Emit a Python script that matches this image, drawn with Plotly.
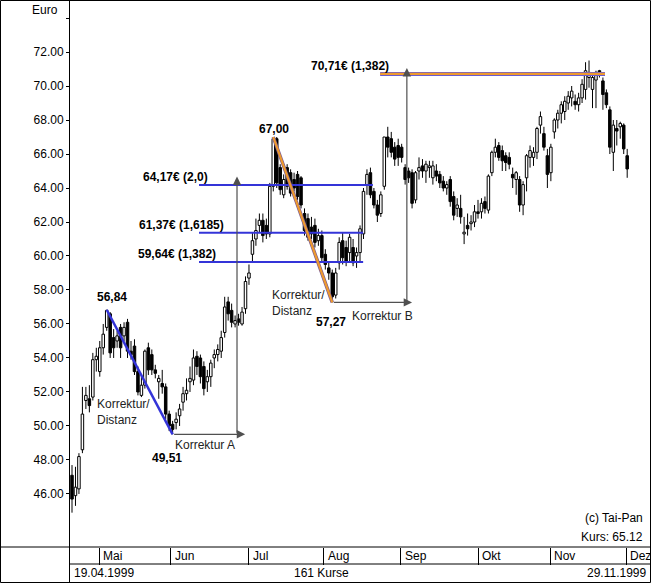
import plotly.graph_objects as go

# ---------------- data ----------------
opens = [47.1, 45.9, 46.3, 48.6, 51.5, 51.6, 51.7, 53.9, 53.2, 54.6,
         55.8, 56.6, 55.2, 55.0, 55.8, 55.3, 56.1, 54.4, 54.7, 53.2,
         51.8, 52.4, 54.6, 54.2, 53.3, 52.6, 52.5, 52.3, 50.7, 50.1,
         50.2, 50.6, 51.4, 51.9, 52.6, 52.7, 54.1, 54.0, 53.5, 52.6,
         52.9, 54.0, 54.2, 54.4, 55.5, 57.3, 56.8, 56.0, 56.3, 56.0,
         56.9, 58.7, 60.1, 61.0, 61.8, 62.1, 61.8, 61.3, 64.1, 66.9,
         65.2, 63.6, 65.2, 64.9, 64.5, 64.8, 64.6, 62.5, 62.2, 61.7,
         61.8, 60.9, 61.2, 60.1, 59.3, 59.0, 57.7, 59.6, 60.9, 60.5,
         60.2, 60.5, 60.0, 60.2, 61.3, 64.2, 64.9, 63.8, 63.0, 62.5,
         64.1, 67.0, 66.9, 66.4, 66.5, 66.4, 65.2, 65.0, 64.9, 63.3,
         65.0, 65.3, 65.0, 65.2, 64.6, 65.0, 64.8, 64.4, 64.0, 64.5,
         63.5, 62.8, 62.8, 61.3, 61.8, 61.9, 62.0, 62.6, 62.6, 63.2,
         62.7, 64.9, 66.1, 66.5, 66.2, 65.9, 65.8, 64.8, 64.5, 64.5,
         63.0, 64.6, 65.8, 65.8, 66.1, 67.7, 67.2, 65.9, 64.9, 67.3,
         68.0, 68.4, 68.5, 69.0, 69.3, 69.1, 68.9, 69.3, 69.8, 70.5,
         69.8, 70.35, 70.9, 70.3, 69.6, 68.6, 66.1, 67.5, 67.6, 67.7,
         65.9]
highs = [47.7, 47.6, 48.4, 52.3, 52.3, 52.4, 54.3, 54.6, 55.0, 56.0,
         56.84, 56.7, 55.7, 55.6, 56.0, 56.1, 56.3, 55.0, 55.1, 53.5,
         53.0, 54.5, 54.9, 54.5, 53.6, 53.0, 53.3, 52.5, 50.9, 50.3,
         50.8, 51.3, 52.3, 52.8, 53.5, 54.5, 54.4, 54.2, 53.8, 53.3,
         53.9, 54.5, 54.8, 55.6, 57.6, 57.6, 57.2, 56.5, 56.6, 57.0,
         58.8, 59.5, 61.4, 62.2, 62.5, 62.5, 62.2, 64.3, 67.0, 67.0,
         65.4, 64.8, 65.4, 65.1, 64.9, 65.0, 64.7, 62.8, 62.5, 62.3,
         62.2, 61.6, 61.5, 60.4, 59.6, 59.2, 59.3, 61.1, 61.4, 60.9,
         61.3, 61.0, 60.5, 61.8, 64.0, 65.1, 65.2, 64.0, 63.3, 63.8,
         67.0, 67.6, 67.3, 66.7, 66.9, 66.6, 65.4, 65.2, 65.1, 65.0,
         65.8, 65.7, 65.6, 65.6, 65.6, 65.4, 65.0, 64.7, 64.4, 64.7,
         63.8, 63.4, 63.6, 62.3, 62.5, 62.4, 63.0, 63.3, 63.4, 63.5,
         64.8, 66.2, 66.9, 66.7, 66.5, 66.1, 66.1, 65.2, 65.0, 64.7,
         64.4, 66.0, 66.5, 66.4, 67.6, 68.5, 67.6, 66.3, 66.6, 68.1,
         68.6, 69.1, 69.4, 69.7, 70.0, 69.5, 69.6, 70.4, 71.4, 71.5,
         70.6, 70.9, 70.95, 70.5, 69.8, 68.8, 68.0, 68.0, 67.9, 67.8,
         66.3]
lows = [44.9, 45.3, 46.0, 48.4, 51.0, 50.8, 51.5, 53.2, 52.9, 54.2,
        55.6, 54.0, 54.0, 54.6, 54.0, 55.0, 54.0, 53.9, 53.0, 51.8,
        51.7, 52.2, 53.0, 53.0, 52.8, 51.6, 51.9, 50.4, 49.7, 49.51,
        49.8, 50.0, 50.9, 51.5, 52.0, 52.4, 53.0, 52.5, 51.8, 52.0,
        52.3, 53.4, 53.8, 54.0, 55.2, 56.2, 55.8, 55.8, 55.9, 55.9,
        56.6, 58.3, 59.6, 60.6, 61.4, 60.8, 61.0, 61.1, 63.8, 64.0,
        63.6, 63.4, 63.9, 63.5, 63.8, 63.3, 62.8, 61.2, 60.9, 61.0,
        60.5, 60.6, 59.6, 59.2, 58.6, 57.27, 57.5, 59.2, 59.5, 59.4,
        59.6, 59.4, 59.3, 59.7, 61.0, 63.6, 63.4, 62.8, 62.0, 62.3,
        63.9, 65.8, 65.8, 65.3, 65.3, 65.5, 64.2, 64.3, 62.8, 63.1,
        64.5, 64.6, 64.3, 64.6, 64.2, 64.4, 64.0, 63.8, 63.6, 62.9,
        62.1, 62.3, 61.9, 60.7, 61.2, 61.5, 61.7, 62.2, 62.2, 62.5,
        62.5, 64.7, 65.8, 65.6, 65.0, 65.0, 65.1, 64.0, 63.6, 62.6,
        62.4, 63.8, 65.2, 65.3, 65.7, 67.2, 66.2, 64.0, 64.4, 66.9,
        67.5, 67.8, 68.0, 68.6, 68.8, 68.6, 68.5, 69.0, 69.2, 69.9,
        68.7, 68.7, 70.5, 68.6, 68.7, 66.0, 65.0, 66.5, 66.9, 66.0,
        64.6]
closes = [45.7, 46.4, 48.2, 50.7, 51.8, 51.2, 53.9, 54.1, 54.6, 55.4,
          56.8, 54.3, 54.6, 55.3, 54.6, 55.8, 54.4, 54.2, 53.2, 52.0,
          52.4, 54.4, 53.3, 53.3, 53.1, 52.8, 52.3, 50.7, 50.0, 49.8,
          50.4, 51.0, 51.9, 52.1, 52.8, 54.0, 53.5, 52.9, 52.2, 52.9,
          53.7, 54.2, 54.5, 55.2, 57.0, 56.6, 56.1, 56.2, 56.1, 56.7,
          58.5, 59.0, 60.9, 61.5, 62.1, 61.2, 61.3, 64.1, 66.9, 64.3,
          63.9, 64.5, 64.1, 63.7, 64.0, 63.5, 63.0, 61.5, 61.1, 61.3,
          60.8, 61.2, 59.9, 59.5, 59.0, 57.6, 59.0, 60.8, 59.9, 59.7,
          61.1, 59.6, 60.2, 61.6, 63.8, 64.8, 63.6, 63.0, 62.4, 63.6,
          67.0, 66.4, 66.1, 65.7, 65.8, 65.8, 64.5, 64.6, 63.1, 64.9,
          65.2, 65.0, 65.4, 65.3, 65.3, 64.7, 64.3, 64.0, 64.2, 63.2,
          62.4, 63.0, 62.3, 61.4, 61.6, 62.0, 62.6, 62.5, 63.1, 62.8,
          64.7, 66.1, 66.4, 65.8, 65.6, 65.5, 65.4, 64.6, 64.9, 63.0,
          64.2, 65.9, 66.2, 66.1, 67.5, 68.2, 66.4, 64.8, 66.4, 68.0,
          68.4, 68.9, 69.1, 69.4, 69.7, 68.9, 69.3, 70.1, 70.9, 70.8,
          70.5, 70.8, 70.8, 69.5, 68.9, 66.4, 67.7, 67.35, 67.8, 66.3,
          65.12]

first_date = "19.04.1999"
last_date = "29.11.1999"
month_names = ["Mai", "Jun", "Jul", "Aug", "Sep", "Okt", "Nov", "Dez"]
y_tick_values = [46, 48, 50, 52, 54, 56, 58, 60, 62, 64, 66, 68, 70, 72, 74]
y_tick_labels = ["46.00", "48.00", "50.00", "52.00", "54.00", "56.00", "58.00",
                 "60.00", "62.00", "64.00", "66.00", "68.00", "70.00", "72.00", ""]

# correction A (high -> low) and correction B (high -> low), candle index / price
corr_a_idx = [10, 29]
corr_a_val = [56.84, 49.51]
corr_b_idx = [58, 75]
corr_b_val = [67.00, 57.27]

# projection levels
levels_a = [64.17, 61.37, 59.64]
levels_a_text = ["64,17€ (2,0)", "61,37€ (1,6185)", "59,64€ (1,382)"]
level_b = 70.71
level_b_text = "70,71€ (1,382)"

# ---------------- layout constants ----------------
W, H = 651, 583
PX_L, PX_R, PX_B = 70, 650, 547          # plot area in pixels
X_RANGE = [-0.58, 166.57]
Y_RANGE = [42.88, 75.06]
month_sep = [7.8, 28.5, 51.0, 72.6, 94.8, 117.0, 137.8, 159.7]   # separator positions (index units)
lev_a_start = 36.6
lev_a_end = [86.7, 83.9, 83.9]
lev_b_span = [88.8, 153.6]
arrow_a_x, arrow_a_end = 47.55, 49.9
arrow_b_x, arrow_b_end = 96.5, 98.0
BODY_W = 0.72

FONT = "Liberation Sans, Arial, sans-serif"
BLUE = "#3434d8"
ORANGE = "#ee9a2e"
GRAY = "#505050"

idx = list(range(len(closes)))
body_lo = [min(o, c) for o, c in zip(opens, closes)]
body_hi = [max(o, c) for o, c in zip(opens, closes)]
body_h = [max(h - l, 0.06) for h, l in zip(body_hi, body_lo)]
body_col = ["white" if c >= o else "black" for o, c in zip(opens, closes)]

wick_x, wick_y = [], []
for i, h, l, bh, bl in zip(idx, highs, lows, body_hi, body_lo):
    wick_x += [i, i, None, i, i, None]
    wick_y += [h, bh, None, bl, l, None]

fig = go.Figure()
fig.add_trace(go.Scatter(x=wick_x, y=wick_y, mode="lines", line=dict(color="black", width=1),
                         hoverinfo="skip", showlegend=False))
fig.add_trace(go.Bar(x=idx, y=body_h, base=body_lo, width=BODY_W,
                     marker=dict(color=body_col, line=dict(color="black", width=1)),
                     hoverinfo="skip", showlegend=False))

# projection lines A
for lv, xe in zip(levels_a, lev_a_end):
    fig.add_trace(go.Scatter(x=[lev_a_start, xe], y=[lv, lv], mode="lines",
                             line=dict(color=BLUE, width=2), hoverinfo="skip", showlegend=False))
# projection line B (orange over blue)
fig.add_trace(go.Scatter(x=lev_b_span, y=[level_b, level_b], mode="lines",
                         line=dict(color="#6a5ad0", width=4), hoverinfo="skip", showlegend=False))
fig.add_trace(go.Scatter(x=lev_b_span, y=[level_b, level_b], mode="lines",
                         line=dict(color=ORANGE, width=2.2), hoverinfo="skip", showlegend=False))
# correction lines
fig.add_trace(go.Scatter(x=corr_a_idx, y=corr_a_val, mode="lines",
                         line=dict(color=BLUE, width=2.5), hoverinfo="skip", showlegend=False))
fig.add_trace(go.Scatter(x=corr_b_idx, y=corr_b_val, mode="lines",
                         line=dict(color="#7a5a90", width=3.5), hoverinfo="skip", showlegend=False))
fig.add_trace(go.Scatter(x=corr_b_idx, y=corr_b_val, mode="lines",
                         line=dict(color=ORANGE, width=2.2), hoverinfo="skip", showlegend=False))

ann = []
def txt(x, y, t, xref="x", yref="y", xanchor="center", yanchor="middle",
        bold=False, size=12, color="black", xshift=0, yshift=0, align="left"):
    ann.append(dict(x=x, y=y, xref=xref, yref=yref, text=f"<b>{t}</b>" if bold else t,
                    showarrow=False, xanchor=xanchor, yanchor=yanchor, align=align,
                    font=dict(family=FONT, size=size, color=color),
                    xshift=xshift, yshift=yshift))

def arrow(x, y, ax, ay):
    ann.append(dict(x=x, y=y, ax=ax, ay=ay, xref="x", yref="y", axref="x", ayref="y",
                    text="", showarrow=True, arrowhead=2, arrowsize=1.4, arrowwidth=1.2,
                    arrowcolor=GRAY, standoff=0, startstandoff=0))

# arrows
arrow(arrow_a_end, corr_a_val[1], corr_a_idx[1], corr_a_val[1])
arrow(arrow_a_x, levels_a[0] + 0.5, arrow_a_x, corr_a_val[1])
arrow(arrow_b_end, corr_b_val[1], corr_b_idx[1], corr_b_val[1])
arrow(arrow_b_x, level_b + 0.35, arrow_b_x, corr_b_val[1])

# value labels
txt(corr_a_idx[0], corr_a_val[0], f"{corr_a_val[0]:.2f}".replace(".", ","), bold=True, xshift=5, yshift=13)
txt(corr_a_idx[1], corr_a_val[1], f"{corr_a_val[1]:.2f}".replace(".", ","), bold=True, xshift=-6, yshift=-24)
txt(corr_b_idx[0], corr_b_val[0], f"{corr_b_val[0]:.2f}".replace(".", ","), bold=True, xshift=1, yshift=8)
txt(corr_b_idx[1], corr_b_val[1], f"{corr_b_val[1]:.2f}".replace(".", ","), bold=True, xshift=-1, yshift=-20)

rights = [39.8, 44.5, 42.0]
for lv, t, xr in zip(levels_a, levels_a_text, rights):
    txt(xr, lv, t, bold=True, xanchor="right", yanchor="bottom", yshift=-1)
txt(92.0, level_b, level_b_text, bold=True, xanchor="right", yanchor="bottom", yshift=-1)

txt(6.6, 50.82, "Korrektur/<br>Distanz", xanchor="left", color="#222222")
txt(57.1, 57.24, "Korrektur/<br>Distanz", xanchor="left", color="#222222")
txt(29.1, 48.88, "Korrektur A", xanchor="left", color="#222222")
txt(80.1, 56.47, "Korrektur B", xanchor="left", color="#222222")

# frame texts
txt(45 / W, 1 - 10 / H, "Euro", xref="paper", yref="paper")
txt(645 / W, 1 - 518 / H, "(c) Tai-Pan", xref="paper", yref="paper", xanchor="right")
txt(645 / W, 1 - 537 / H, f"Kurs: {closes[-1]:.2f}", xref="paper", yref="paper", xanchor="right")
for m, p in zip(month_names, month_sep):
    txt(p, 1 - 556 / H, m, xref="x", yref="paper", xanchor="left", xshift=2)
txt(72 / W, 1 - 573 / H, first_date, xref="paper", yref="paper", xanchor="left")
txt(321 / W, 1 - 573 / H, f"{len(closes)} Kurse", xref="paper", yref="paper")
txt(648 / W, 1 - 573 / H, last_date, xref="paper", yref="paper", xanchor="right")

yb = (H - PX_B) / H
shapes = [
    dict(type="rect", xref="paper", yref="paper", x0=0.5 / W, x1=1 - 0.5 / W, y0=0.5 / H, y1=1 - 0.5 / H,
         line=dict(color="black", width=1)),
    dict(type="line", xref="paper", yref="paper", x0=0, x1=1, y0=yb, y1=yb,
         line=dict(color="black", width=1)),
    dict(type="line", xref="paper", yref="paper", x0=PX_L / W, x1=1, y0=(H - 564) / H, y1=(H - 564) / H,
         line=dict(color="black", width=1)),
    dict(type="line", xref="paper", yref="paper", x0=(PX_L - 0.5) / W, x1=(PX_L - 0.5) / W, y0=0, y1=1,
         line=dict(color="black", width=1)),
]

fig.update_layout(
    width=W, height=H, margin=dict(l=0, r=0, t=0, b=0),
    paper_bgcolor="white", plot_bgcolor="white",
    barmode="overlay", showlegend=False, hovermode=False,
    font=dict(family=FONT, size=12, color="black"),
    xaxis=dict(domain=[PX_L / W, PX_R / W], range=X_RANGE, showgrid=False, zeroline=False,
               showline=False, ticks="outside", tickvals=month_sep, ticklen=17, tickwidth=1,
               tickcolor="black", showticklabels=False, fixedrange=True),
    yaxis=dict(domain=[yb, 1], range=Y_RANGE, showgrid=False, zeroline=False,
               showline=True, linecolor="black", linewidth=1, ticks="outside", ticklen=3,
               tickcolor="black", tickvals=y_tick_values, ticktext=y_tick_labels,
               tickfont=dict(family=FONT, size=12, color="black"), fixedrange=True),
    annotations=ann, shapes=shapes,
)

fig.write_html("out.html", config={"displayModeBar": False},
               post_script="document.body.style.margin='0';document.body.style.overflow='hidden';")
